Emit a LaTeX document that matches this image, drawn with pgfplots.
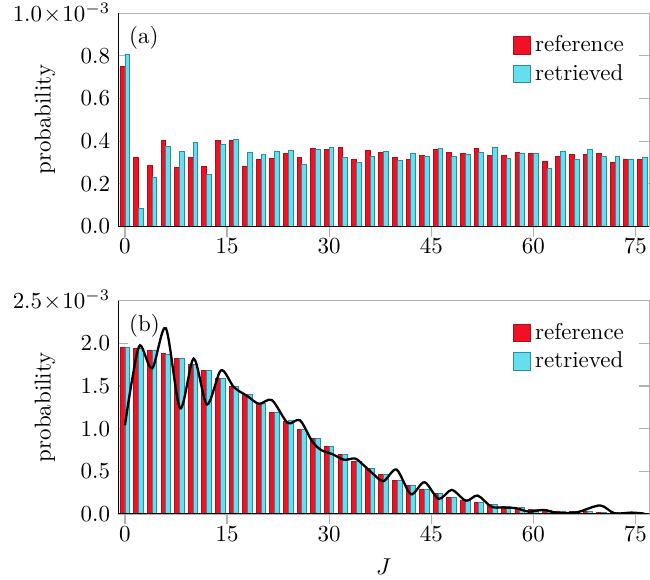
\documentclass[border=0pt]{standalone}
\usepackage{pgfplots}
\usepackage{pgfplotstable}
\pgfplotsset{compat=1.18}

\definecolor{barred}{RGB}{240,18,34}
\definecolor{barredline}{RGB}{175,12,28}
\definecolor{barcyan}{RGB}{102,222,240}
\definecolor{barcyanline}{RGB}{45,140,160}

% values in units of 1e-3
\pgfplotstableread{
J ref ret
0 0.752 0.808
2 0.325 0.086
4 0.287 0.232
6 0.403 0.373
8 0.276 0.351
10 0.322 0.392
12 0.279 0.242
14 0.405 0.386
16 0.403 0.409
18 0.282 0.345
20 0.312 0.339
22 0.320 0.353
24 0.344 0.355
26 0.322 0.292
28 0.364 0.359
30 0.361 0.369
32 0.372 0.322
34 0.312 0.301
36 0.355 0.329
38 0.345 0.351
40 0.322 0.307
42 0.315 0.344
44 0.334 0.326
46 0.362 0.364
48 0.345 0.328
50 0.340 0.337
52 0.364 0.348
54 0.333 0.369
56 0.333 0.320
58 0.345 0.340
60 0.342 0.340
62 0.306 0.270
64 0.329 0.350
66 0.336 0.315
68 0.339 0.361
70 0.344 0.326
72 0.298 0.326
74 0.312 0.314
76 0.315 0.322
}\tabA

\pgfplotstableread{
J ref ret
0 1.949 1.949
2 1.941 1.941
4 1.910 1.910
6 1.878 1.871
8 1.824 1.824
10 1.753 1.753
12 1.682 1.682
14 1.592 1.592
16 1.498 1.498
18 1.400 1.400
20 1.294 1.294
22 1.192 1.192
24 1.086 1.094
26 0.988 0.988
28 0.882 0.882
30 0.788 0.788
32 0.698 0.698
34 0.616 0.612
36 0.529 0.529
38 0.459 0.459
40 0.392 0.392
42 0.333 0.333
44 0.282 0.282
46 0.235 0.235
48 0.196 0.196
50 0.161 0.157
52 0.133 0.133
54 0.106 0.106
56 0.086 0.086
58 0.067 0.071
60 0.055 0.055
62 0.047 0.039
64 0.035 0.035
66 0.027 0.027
68 0.024 0.024
70 0.020 0.020
72 0.016 0.016
74 0.012 0.012
76 0.008 0.008
}\tabB

\pgfplotsset{
  sqlegend/.style={legend image code/.code={\draw[##1] (0pt,-3.8pt) rectangle (7.4pt,3.8pt);}},
  refbars/.style={ybar, bar width=0.7, bar shift=-0.35, fill=barred, draw=barredline, line width=0.4pt, sqlegend},
  retbars/.style={ybar, bar width=0.7, bar shift=0.35, fill=barcyan, draw=barcyanline, line width=0.4pt, sqlegend},
  panel/.style={
    scale only axis, width=231.4pt, height=93pt,
    xmin=-1, xmax=77, ymin=0,
    xtick={0,15,...,75},
    xtick pos=left, ytick pos=both,
    xtick align=outside, ytick align=inside,
    major tick length=4.5pt,
    tick style={gray!60, line width=0.5pt},
    axis line style={gray!60, line width=0.5pt},
    xticklabel style={yshift=2.6pt},
    ylabel={probability},
    ylabel style={at={(axis description cs:-0.138,0.5)}, anchor=center},
    legend style={draw=none, fill=none, at={(0.975,0.94)}, anchor=north east},
    legend cell align=left,
  },
}

\begin{document}
\begin{tikzpicture}
\begin{axis}[panel, name=top,
  ymax=1.0, ytick={0,0.2,...,1.0},
  yticklabels={$0.0$,$0.2$,$0.4$,$0.6$,$0.8$,$1.0\!\times\!10^{-3}$}]
\addplot[refbars] table[x=J, y=ref] {\tabA};
\addplot[retbars] table[x=J, y=ret] {\tabA};
\legend{reference, retrieved}
\draw[black, line width=0.6pt] (rel axis cs:0,1) -- (rel axis cs:0,0) -- (rel axis cs:1,0);
\node[anchor=north west, inner sep=0pt] at (rel axis cs:0.02,0.94) {(a)};
\end{axis}

\begin{axis}[panel, name=bot, at={(0,-125.3pt)},
  ymax=2.5, ytick={0,0.5,...,2.5},
  yticklabels={$0.0$,$0.5$,$1.0$,$1.5$,$2.0$,$2.5\!\times\!10^{-3}$},
  xlabel={$J$}, xlabel style={yshift=-1pt}]
\addplot[refbars] table[x=J, y=ref] {\tabB};
\addplot[retbars] table[x=J, y=ret] {\tabB};
\legend{reference, retrieved}
\addplot[black, line width=1pt, smooth, forget plot] coordinates {
(0,1.04) (1,1.55) (2.2,1.976) (4,1.706) (6,2.176) (8.1,1.239) (10.1,1.82)
(12.05,1.282) (14.1,1.682) (16,1.486) (18,1.38) (19.7,1.29) (21.6,1.333)
(23.9,1.067) (25.7,1.098) (27.5,0.851) (28.8,0.75) (30.5,0.70) (32.2,0.635)
(33.8,0.65) (35,0.576) (36.5,0.467) (38,0.385) (39.9,0.52) (42,0.232)
(44,0.372) (46.1,0.176) (48,0.282) (50.1,0.155) (51.8,0.216) (53.8,0.086)
(55.5,0.075) (57.5,0.067) (59.3,0.027) (61.5,0.047) (63.5,0.014) (66.4,0.02)
(69.8,0.10) (71.9,0.008) (74.4,0.016) (76.3,0.004)
};
\draw[black, line width=0.6pt] (rel axis cs:0,1) -- (rel axis cs:0,0) -- (rel axis cs:1,0);
\node[anchor=north west, inner sep=0pt] at (rel axis cs:0.02,0.94) {(b)};
\end{axis}

\pgfresetboundingbox
\path[use as bounding box] ([xshift=-51.5pt,yshift=-28.5pt]bot.south west)
  rectangle ([xshift=0.4pt,yshift=5.7pt]top.north east);
\end{tikzpicture}
\end{document}
